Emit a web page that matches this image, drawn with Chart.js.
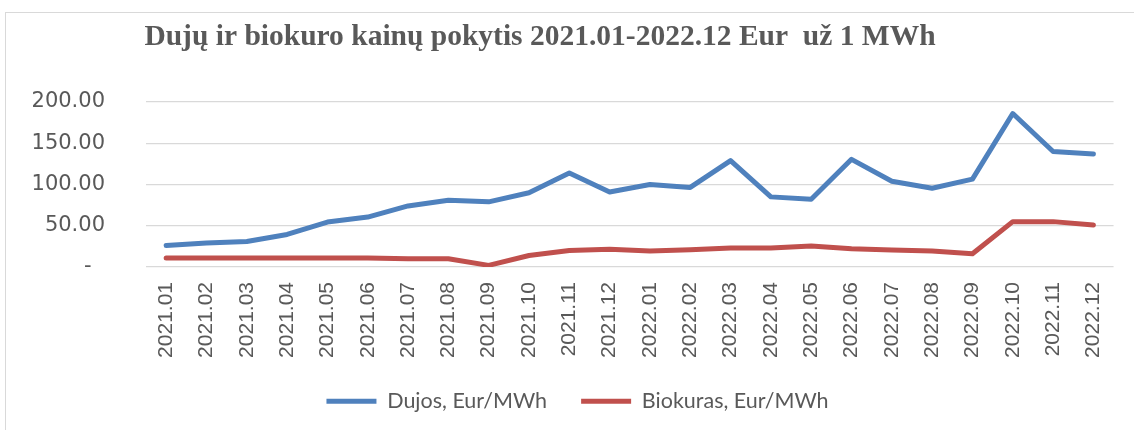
<!DOCTYPE html>
<html>
<head>
<meta charset="utf-8">
<script src="https://cdn.jsdelivr.net/npm/chart.js@4"></script>
<style>
  html, body { margin: 0; background: #fff; overflow: hidden; }
  #wrap { position: relative; width: 1134px; height: 430px; overflow: hidden; }
  #frame { position: absolute; left: 5px; top: 12px; width: 1200px; height: 500px;
           border-left: 1px solid #d9d9d9; border-top: 1px solid #d9d9d9; }
  canvas { position: absolute; left: 0; top: 0; }
</style>
</head>
<body>
<div id="wrap">
  <div id="frame"></div>
  <canvas id="chart" width="1134" height="430"></canvas>
</div>
<script>
const chartTitle = 'Dujų ir biokuro kainų pokytis 2021.01-2022.12 Eur  už 1 MWh';

const months = ['2021.01', '2021.02', '2021.03', '2021.04', '2021.05', '2021.06',
                '2021.07', '2021.08', '2021.09', '2021.10', '2021.11', '2021.12',
                '2022.01', '2022.02', '2022.03', '2022.04', '2022.05', '2022.06',
                '2022.07', '2022.08', '2022.09', '2022.10', '2022.11', '2022.12'];

const dujos = [26, 29, 31, 39.5, 54.5, 60.5, 74, 81, 79, 90, 114, 91,
               100, 96.5, 129, 85, 82, 130.5, 104, 95.5, 106.5, 186, 140, 137];

const biokuras = [11, 11, 11, 11, 11, 10.8, 10, 10, 2, 14, 20, 21.5,
                  19.5, 21, 23, 23, 25.5, 22, 20.5, 19.5, 16, 55, 55, 51];

const yTicks = [0, 50, 100, 150, 200];

// title is drawn a bit left of the canvas centre, like in the original
const titlePlugin = {
    id: 'leftTitle',
    afterDraw(chart) {
        const ctx = chart.ctx;
        ctx.save();
        ctx.font = 'bold 29.5px "Liberation Serif", "Times New Roman", serif';
        ctx.fillStyle = '#595959';
        ctx.textAlign = 'center';
        ctx.textBaseline = 'middle';
        ctx.fillText(chartTitle, 540, 37);
        ctx.restore();
    }
};

// nudge the legend box a little right and up
const legendShift = {
    id: 'legendShift',
    afterLayout(chart) {
        const lg = chart.legend;
        lg.left += 15; lg.right += 15;
        lg.top -= 8; lg.bottom -= 8;
    }
};

new Chart(document.getElementById('chart'), {
    type: 'line',
    data: {
        labels: months,
        datasets: [
            {
                label: 'Dujos, Eur/MWh',
                data: dujos,
                borderColor: '#4f81bd',
                backgroundColor: '#4f81bd',
                borderWidth: 5,
                borderCapStyle: 'round',
                borderJoinStyle: 'round',
                pointRadius: 0,
                tension: 0,
                fill: false
            },
            {
                label: 'Biokuras, Eur/MWh',
                data: biokuras,
                borderColor: '#c0504d',
                backgroundColor: '#c0504d',
                borderWidth: 5,
                borderCapStyle: 'round',
                borderJoinStyle: 'round',
                pointRadius: 0,
                tension: 0,
                fill: false
            }
        ]
    },
    plugins: [titlePlugin, legendShift],
    options: {
        responsive: false,
        animation: false,
        layout: { padding: { left: 10, right: 19, top: 102, bottom: 0 } },
        plugins: {
            title: { display: false },
            legend: {
                position: 'bottom',
                labels: {
                    usePointStyle: true,
                    pointStyle: 'line',
                    pointStyleWidth: 50,
                    boxHeight: 16,
                    color: '#595959',
                    font: { family: 'Lato, sans-serif', size: 21.5 },
                    padding: 34
                }
            },
            tooltip: { enabled: false }
        },
        scales: {
            x: {
                offset: true,
                grid: { display: false, drawTicks: false },
                border: { display: false },
                ticks: {
                    minRotation: 90,
                    maxRotation: 90,
                    autoSkip: false,
                    padding: 15,
                    color: '#595959',
                    font: { family: '"Liberation Sans", Arial, sans-serif', size: 21 }
                },
                afterFit: (scale) => { scale.height = 97.5; }
            },
            y: {
                min: 0,
                max: 200,
                afterBuildTicks: (scale) => { scale.ticks = yTicks.map(v => ({ value: v })); },
                grid: { color: '#d9d9d9', lineWidth: 1.3, drawTicks: false },
                border: { display: false },
                ticks: {
                    padding: 41,
                    color: '#595959',
                    font: { family: '"DejaVu Sans", sans-serif', size: 21 },
                    callback: (v) => v === 0 ? '-  ' : v.toFixed(2)
                },
                afterFit: (scale) => { scale.width = 136; }
            }
        }
    }
});
</script>
</body>
</html>
